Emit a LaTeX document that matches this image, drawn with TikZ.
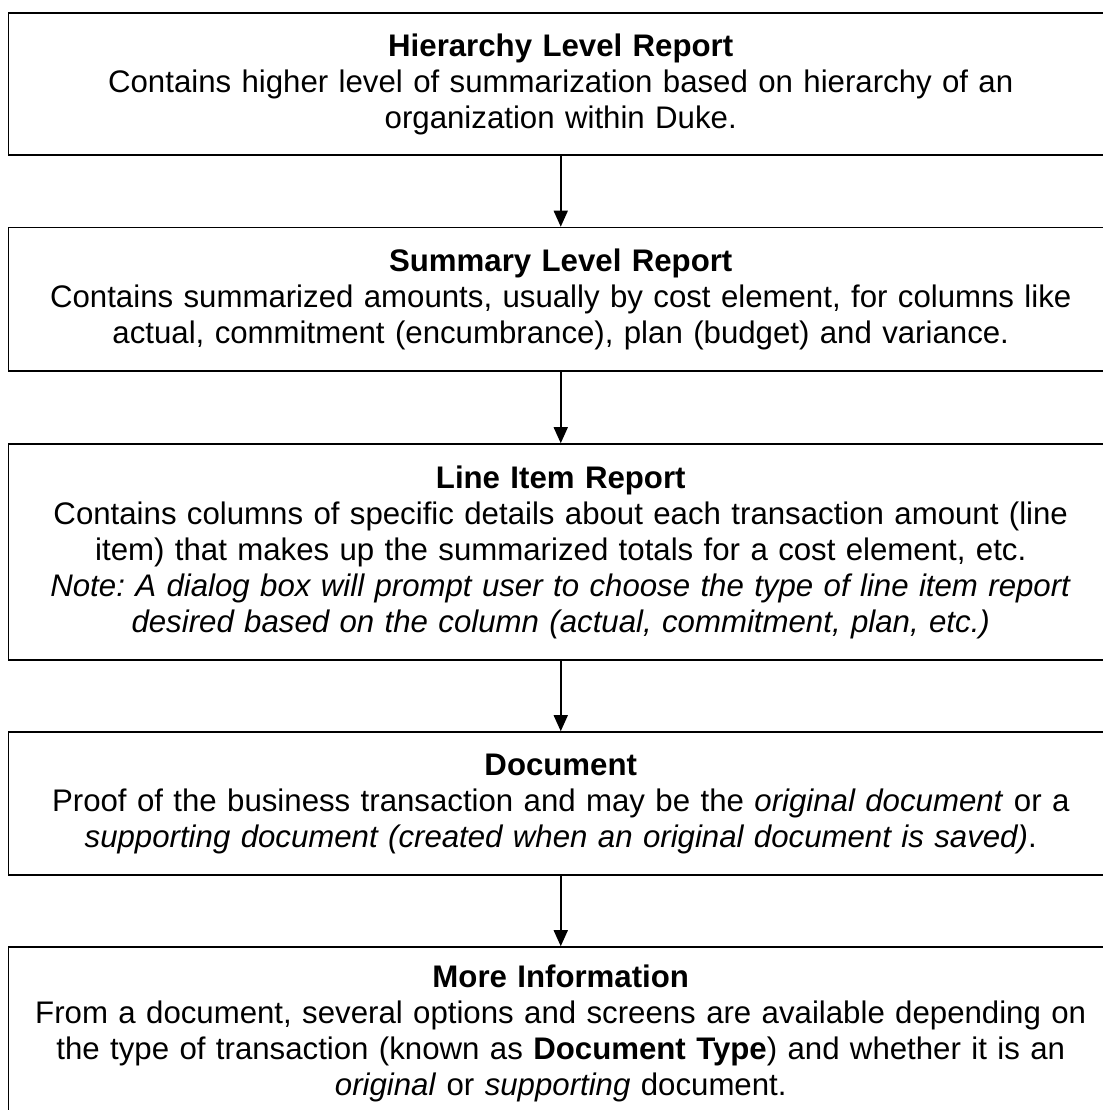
\documentclass[tikz,border=0pt]{standalone}
\usepackage{fontspec}
\setmainfont{Liberation Sans}
\usetikzlibrary{arrows.meta}
\frenchspacing
\begin{document}
\begin{tikzpicture}[x=0.5pt,y=-0.5pt,
  report/.style={draw,line width=0.8pt,minimum width=552.25pt,text width=540pt,
    inner sep=0pt,align=center,font=\fontsize{15.6pt}{18pt}\selectfont},
  flow/.style={-{Triangle[length=8pt,width=7pt]},line width=0.8pt}]
            \useasboundingbox (0,0) rectangle (1103,1110);
            \clip (0,0) rectangle (1103,1110);
            \node[report,minimum height=71.25pt] (hier) at (560.75,84) {\textbf{Hierarchy Level Report}\\
              Contains higher level of summarization based on hierarchy of an\\
              organization within Duke.};
            \node[report,minimum height=71.75pt] (summ) at (560.75,299.25) {\textbf{Summary Level Report}\\
              Contains summarized amounts, usually by cost element, for columns like\\
              actual, commitment (encumbrance), plan (budget) and variance.};
            \node[report,minimum height=108pt] (item) at (560.75,552) {\textbf{Line Item Report}\\
              Contains columns of specific details about each transaction amount (line\\
              item) that makes up the summarized totals for a cost element, etc.\\
              \textit{Note: A dialog box will prompt user to choose the type of line item report}\\
              \textit{desired based on the column (actual, commitment, plan, etc.)}};
            \node[report,minimum height=71.5pt] (doc) at (560.75,803.5) {\textbf{Document}\\
              Proof of the business transaction and may be the \textit{original document} or a\\
              \textit{supporting document (created when an original document is saved)}.};
            \node[report,minimum height=86.5pt] (more) at (560.75,1033.5) {\textbf{More Information}\\
              From a document, several options and screens are available depending on\\
              the type of transaction (known as \textbf{Document Type}) and whether it is an\\
              \textit{original} or \textit{supporting} document.};
            \draw[flow] (hier) -- (summ);
            \draw[flow] (summ) -- (item);
            \draw[flow] (item) -- (doc);
            \draw[flow] (doc) -- (more);
        \end{tikzpicture}
\end{document}
